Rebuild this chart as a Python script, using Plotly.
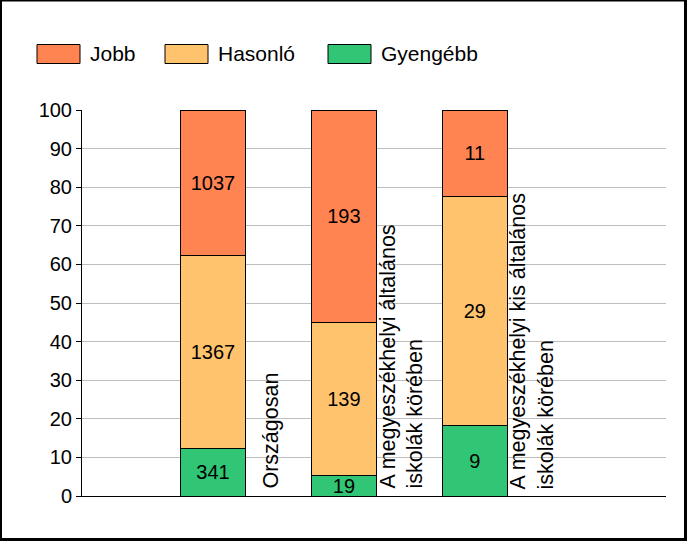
import plotly.graph_objects as go

categories = ["Országosan",
              "A megyeszékhelyi általános<br>iskolák körében",
              "A megyeszékhelyi kis általános<br>iskolák körében"]
positions = [1, 2, 3]
series_names = ["Gyengébb", "Hasonló", "Jobb"]
legend_order = ["Jobb", "Hasonló", "Gyengébb"]
gyengebb = [341, 19, 9]
hasonlo = [1367, 139, 29]
jobb = [1037, 193, 11]
y_ticks = [0, 10, 20, 30, 40, 50, 60, 70, 80, 90, 100]

colors = {"Jobb": "#FF8452", "Hasonló": "#FFC36E", "Gyengébb": "#31C576"}
values = {"Gyengébb": gyengebb, "Hasonló": hasonlo, "Jobb": jobb}

FONT = "Liberation Sans, Arial, sans-serif"
FS = 20
W, H = 687, 541
ML, MR, MT, MB = 82, 21, 110, 45
PW, PH = W - ML - MR, H - MT - MB


def px_x(p):
    return (p - ML) / PW


def px_y(p):
    return 1 - (p - MT) / PH


fig = go.Figure()
for name in series_names:
    fig.add_trace(go.Bar(
        x=positions, y=values[name], name=name,
        text=[str(v) for v in values[name]],
        textposition="inside", insidetextanchor="middle", textangle=0,
        textfont=dict(family=FONT, size=FS, color="black"),
        marker=dict(color=colors[name], line=dict(color="black", width=1)),
        width=0.5, hoverinfo="name+y",
    ))

annotations = []
for pos, cat in zip(positions, categories):
    annotations.append(dict(
        x=pos + 0.44, y=0, xref="x", yref="y", text=cat, showarrow=False,
        textangle=-90, xanchor="center", yanchor="bottom", yshift=5,
        align="left", font=dict(family=FONT, size=21.5, color="black"),
    ))

# outer black frame
shapes = [dict(type="rect", xref="paper", yref="paper",
               x0=px_x(0.5), x1=px_x(685.5), y0=px_y(539.5), y1=px_y(0),
               line=dict(color="black", width=3), fillcolor="rgba(0,0,0,0)",
               layer="below")]

# legend drawn as swatches + labels above the plot
swatch_left = [37, 165, 328]
for left, name in zip(swatch_left, legend_order):
    shapes.append(dict(type="rect", xref="paper", yref="paper",
                       x0=px_x(left), x1=px_x(left + 43),
                       y0=px_y(63.5), y1=px_y(44.5),
                       line=dict(color="black", width=1),
                       fillcolor=colors[name]))
    annotations.append(dict(x=px_x(left + 51), y=px_y(54), xref="paper",
                            yref="paper", text=name, showarrow=False,
                            xanchor="left", yanchor="middle",
                            font=dict(family=FONT, size=21, color="black")))

fig.update_layout(
    width=W, height=H,
    margin=dict(l=ML, r=MR, t=MT, b=MB, pad=0),
    paper_bgcolor="white", plot_bgcolor="white",
    barmode="stack", barnorm="percent",
    uniformtext=dict(minsize=FS, mode="show"),
    font=dict(family=FONT, size=FS, color="black"),
    showlegend=False,
    xaxis=dict(range=[0, 4.46], showticklabels=False, showgrid=False,
               zeroline=False, showline=True, linecolor="black", linewidth=1,
               ticks="", fixedrange=True),
    yaxis=dict(range=[0, 100], tickvals=y_ticks, showgrid=True,
               gridcolor="#BEBEBE", gridwidth=1, zeroline=False,
               showline=True, linecolor="black", linewidth=1,
               ticks="outside", ticklen=5, tickcolor="black",
               tickfont=dict(family=FONT, size=FS, color="black"),
               fixedrange=True),
    annotations=annotations, shapes=shapes,
)

fig.write_html("out.html", config={"displayModeBar": False},
               post_script="document.body.style.margin='0';document.body.style.overflow='hidden';")
